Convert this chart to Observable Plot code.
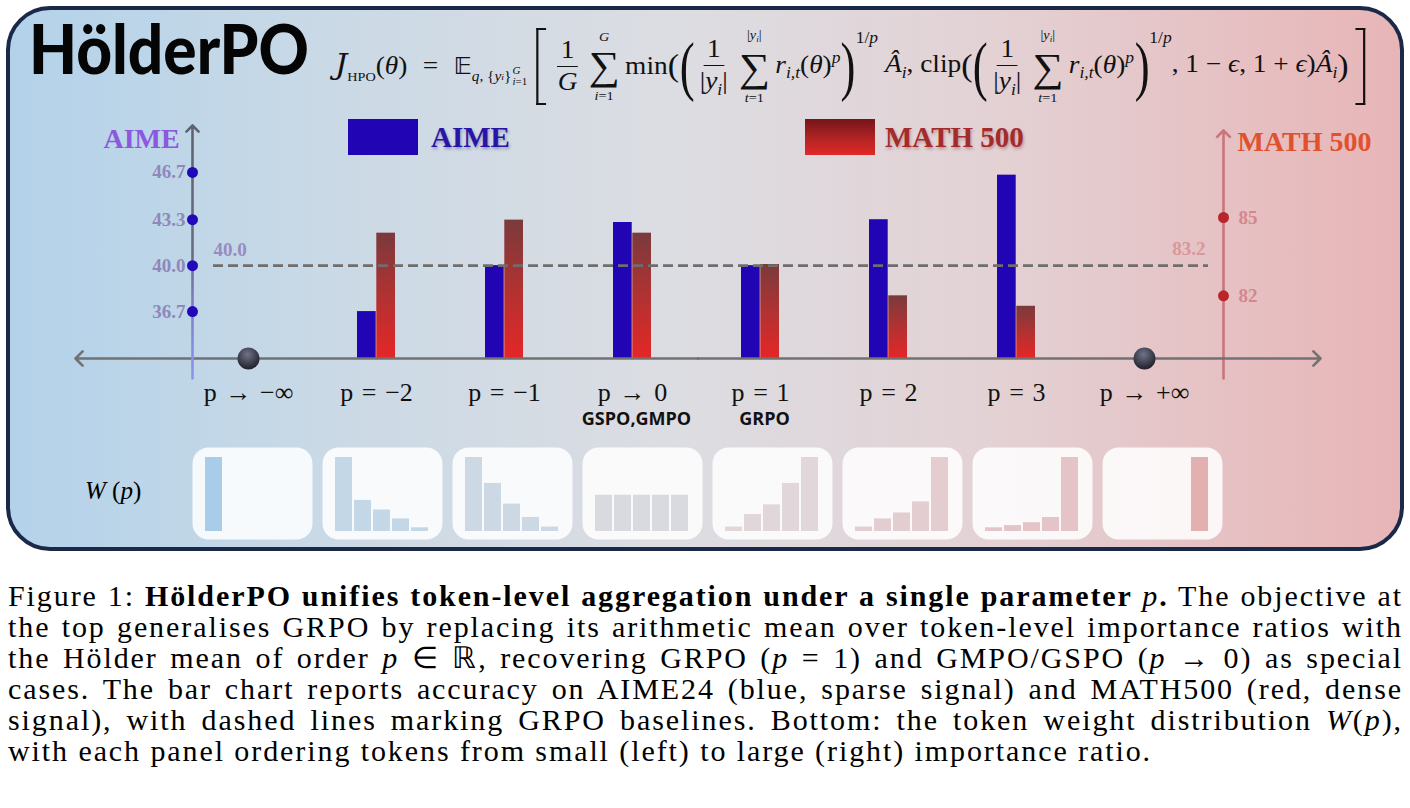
<!DOCTYPE html>
<html>
<head>
<meta charset="utf-8">
<script src="https://cdn.jsdelivr.net/npm/d3@7"></script>
<script src="https://cdn.jsdelivr.net/npm/@observablehq/plot@0.6"></script>
<style>
html, body { margin:0; padding:0; background:#ffffff; }
body { position:relative; width:1410px; height:808px; overflow:hidden; font-family:"Liberation Serif","Times New Roman",serif; color:#000; }
#panel { position:absolute; left:6px; top:6px; width:1390px; height:537px; border:4px solid #1b2948; border-radius:44px;
  background: linear-gradient(90deg, #b3d2ea 0%, #c9d9e6 22%, #dcdde2 48%, #e3d2d5 70%, #e8b5b7 100%); }
#title { position:absolute; left:29px; top:14px; font-family:Lato,"Open Sans",sans-serif; font-weight:900; font-size:68px; color:#050505; line-height:1; white-space:nowrap; transform-origin:0 0; }
.legend-box { position:absolute; width:70px; height:36px; }
.legend-text { position:absolute; font-family:"Liberation Serif",serif; font-weight:bold; font-size:29px; line-height:1; white-space:nowrap; }
.layer { position:absolute; left:0; top:0; pointer-events:none; }
#wlabel { position:absolute; left:85px; top:478px; font-size:25px; line-height:1; white-space:nowrap; }
#caption { position:absolute; left:8px; top:580px; width:1395px; font-size:30px; line-height:31px; }
#caption div { text-align:justify; text-align-last:justify; white-space:nowrap; }
#caption div.last { text-align:left; text-align-last:left; }
#measure { position:absolute; left:0; top:900px; white-space:nowrap; font-size:30px; visibility:hidden; }

#formula { position:absolute; left:335px; top:26px; height:80px; display:flex; align-items:center; font-family:"Liberation Serif",serif; font-size:25px; color:#111; white-space:nowrap; transform-origin:0 50%; }
#formula > span { display:inline-flex; align-items:center; }
#formula > span.t { display:inline-block; }
.J { font-style:italic; font-size:28px; font-family:"DejaVu Serif",serif; }
.sub { font-size:0.64em; vertical-align:-0.35em; }
.sup { font-size:0.64em; vertical-align:0.6em; }
.subHPO { font-size:13px; vertical-align:-0.5em; }
.eq { margin:0 14px; }
.bbE { font-family:"DejaVu Sans",sans-serif; font-size:23px; }
.esub { font-size:14px; align-self:flex-end; margin-bottom:19px; display:inline-flex !important; align-items:center; }
.stk { display:inline-flex; flex-direction:column; font-size:10px; line-height:1.05; margin-left:1px; }
.brL, .brR { width:9px; height:77px; box-sizing:border-box; border:2px solid #111; }
.brL { border-right:none; margin:0 6px 0 8px; }
.brR { border-left:none; margin-left:6px; }
.frac { flex-direction:column; line-height:1.2; margin:0 2px; }
.frac > span { padding:0 3px; text-align:center; }
.frac > span:first-child { border-bottom:1.4px solid #111; padding-bottom:1px; }
.sum { flex-direction:column; margin:0 5px; line-height:1; }
.sum .lim { font-size:13px; line-height:1; }
.sum .lim:first-child { margin-bottom:3px; }
.sum .lim:last-child { margin-top:3px; }
.sum .sig { font-size:40px; line-height:1; }
.pm { font-size:31px; }
.pb { font-size:66px; line-height:1; display:inline-block !important; transform:scaleX(0.62); margin:0 -4px; }
.exp { align-self:flex-start; margin-top:3px; font-size:16px; }

g[aria-label="aime-title"] text { filter: drop-shadow(1px 2px 2px rgba(90,40,170,0.45)); }
g[aria-label="math-title"] text { filter: drop-shadow(1px 2px 2px rgba(170,40,20,0.40)); }
</style>
</head>
<body>
<div id="panel"></div>
<div id="title">HölderPO</div>

<div id="formula">
  <span class="t"><span class="J">J</span><span class="subHPO">HPO</span>(<i>θ</i>)</span>
  <span class="t eq">=</span>
  <span class="t"><span class="bbE">𝔼</span></span>
  <span class="esub"><i>q</i>,&nbsp;{<i>y</i><span class="sub"><i>i</i></span>}<span class="stk"><span><i>G</i></span><span><i>i</i>=1</span></span></span>
  <span class="brL"></span>
  <span class="frac"><span>1</span><span><i>G</i></span></span>
  <span class="sum"><span class="lim"><i>G</i></span><span class="sig">∑</span><span class="lim"><i>i</i>=1</span></span>
  <span class="t">min</span><span class="pm">(</span><span class="pb">(</span>
  <span class="frac"><span>1</span><span>|<i>y</i><span class="sub"><i>i</i></span>|</span></span>
  <span class="sum"><span class="lim">|<i>y</i><span class="sub"><i>i</i></span>|</span><span class="sig">∑</span><span class="lim"><i>t</i>=1</span></span>
  <span class="t"><i>r</i><span class="sub"><i>i,t</i></span>(<i>θ</i>)<span class="sup"><i>p</i></span></span>
  <span class="pb">)</span><span class="exp">1/<i>p</i></span>
  <span class="t">&nbsp;<i>Â</i><span class="sub"><i>i</i></span>,&nbsp;clip</span><span class="pm">(</span><span class="pb">(</span>
  <span class="frac"><span>1</span><span>|<i>y</i><span class="sub"><i>i</i></span>|</span></span>
  <span class="sum"><span class="lim">|<i>y</i><span class="sub"><i>i</i></span>|</span><span class="sig">∑</span><span class="lim"><i>t</i>=1</span></span>
  <span class="t"><i>r</i><span class="sub"><i>i,t</i></span>(<i>θ</i>)<span class="sup"><i>p</i></span></span>
  <span class="pb">)</span><span class="exp">1/<i>p</i></span>
  <span class="t">,&nbsp;1&nbsp;−&nbsp;<i>ϵ</i>,&nbsp;1&nbsp;+&nbsp;<i>ϵ</i>)<i>Â</i><span class="sub"><i>i</i></span></span><span class="pm">)</span>
  <span class="brR"></span>
</div>

<div class="legend-box" style="left:348px;top:119px;background:#2104b3;"></div>
<div class="legend-text" style="left:431px;top:123px;color:#2815a6;text-shadow:1px 2px 3px rgba(30,10,110,0.35);">AIME</div>
<div class="legend-box" style="left:805px;top:119px;background:linear-gradient(180deg,#74151a 0%,#b22424 55%,#e42828 100%);"></div>
<div class="legend-text" style="left:885px;top:123px;color:#a32b2b;text-shadow:1px 2px 3px rgba(110,20,20,0.35);">MATH 500</div>

<div id="wlabel"><i>W</i>&nbsp;(<i>p</i>)</div>

<div id="caption">
  <div>Figure 1: <b>HölderPO unifies token-level aggregation under a single parameter </b><i>p</i><b>.</b> The objective at</div>
  <div>the top generalises GRPO by replacing its arithmetic mean over token-level importance ratios with</div>
  <div>the Hölder mean of order <i>p</i> ∈ ℝ, recovering GRPO (<i>p</i> = 1) and GMPO/GSPO (<i>p</i> → 0) as special</div>
  <div>cases. The bar chart reports accuracy on AIME24 (blue, sparse signal) and MATH500 (red, dense</div>
  <div>signal), with dashed lines marking GRPO baselines. Bottom: the token weight distribution <i>W</i>(<i>p</i>),</div>
  <div class="last" id="capLast">with each panel ordering tokens from small (left) to large (right) importance ratio.</div>
</div>
<span id="measure"></span>

<script>
// ---------------- data ----------------
const categories = ["p→−∞", "p=−2", "p=−1", "p→0", "p=1", "p=2", "p=3", "p→+∞"];
const categoryLabels = ["p → −∞", "p = −2", "p = −1", "p → 0", "p = 1", "p = 2", "p = 3", "p → +∞"];
const barCategories = ["p=−2", "p=−1", "p→0", "p=1", "p=2", "p=3"];
const aimeScores = [36.7, 40.0, 43.1, 40.0, 43.3, 46.5];
const math500Scores = [84.4, 84.9, 84.4, 83.2, 82.0, 81.6];
const aimeTicks = [36.7, 40.0, 43.3, 46.7];
const math500Ticks = [82, 85];
const aimeGRPO = 40.0;
const math500GRPO = 83.2;
const limitCategories = ["p→−∞", "p→+∞"];
const methodCategories = ["p→0", "p=1"];
const methodNames = ["GSPO,GMPO", "GRPO"];
const tokenSlots = [0, 1, 2, 3, 4];
const weightsNegInf = [1.0, 0, 0, 0, 0];
const weightsMinus2 = [1.0, 0.42, 0.29, 0.17, 0.05];
const weightsMinus1 = [1.0, 0.65, 0.37, 0.19, 0.06];
const weightsZero   = [0.49, 0.49, 0.49, 0.49, 0.49];
const weightsOne    = [0.06, 0.23, 0.36, 0.65, 1.0];
const weightsTwo    = [0.06, 0.17, 0.25, 0.40, 1.0];
const weightsThree  = [0.05, 0.08, 0.12, 0.19, 1.0];
const weightsPosInf = [0, 0, 0, 0, 1.0];

// ---------------- styles ----------------
const panelBarColors = ["#a9cde9", "#c3d7e7", "#ccd8e3", "#d9dadf", "#e1d6da", "#e3cdd1", "#e5c4c8", "#e3b0b2"];
const aimeAxis = [33.33, 46.67];
const mathAxis = [79.6, 85.0];

const svgNS = "http://www.w3.org/2000/svg";
const defsMarkup = `
<linearGradient id="mathBarGrad" x1="0" y1="0" x2="0" y2="1">
  <stop offset="0" stop-color="#7a3a3c"/><stop offset="0.55" stop-color="#b63131"/><stop offset="1" stop-color="#e52626"/>
</linearGradient>
<linearGradient id="aimeAxisGrad" gradientUnits="userSpaceOnUse" x1="0" y1="0" x2="0" y2="-253">
  <stop offset="0" stop-color="#9094f0"/><stop offset="0.28" stop-color="#7c80c8"/><stop offset="0.5" stop-color="#686c82"/><stop offset="1" stop-color="#5f6370"/>
</linearGradient>
<radialGradient id="ballGrad" cx="0.45" cy="0.32" r="0.68">
  <stop offset="0" stop-color="#70738a"/><stop offset="1" stop-color="#1e1f28"/>
</radialGradient>`;
function addDefs(svg) {
  const defs = document.createElementNS(svgNS, "defs");
  defs.innerHTML = defsMarkup;
  svg.insertBefore(defs, svg.firstChild);
}

const aimeRows = barCategories.map((c, i) => ({cat: c, v: aimeScores[i]}));
const mathRows = barCategories.map((c, i) => ({cat: c, v: math500Scores[i]}));

const serif = "Liberation Serif";
function basePlot(extra) {
  return Plot.plot(Object.assign({
    width: 1410, height: 560,
    marginLeft: 75, marginRight: 90, marginTop: 128, marginBottom: 182,
    style: {background: "transparent", overflow: "visible"},
    x: {type: "band", domain: categories, range: [182, 1210.5], paddingInner: 0.7, paddingOuter: 0.35, axis: null}
  }, extra));
}

// MATH 500 layer (bottom)
const mathPlot = basePlot({
  y: {domain: mathAxis, range: [358, 217], axis: null},
  marks: [
    Plot.barY(mathRows, {x: "cat", y1: mathAxis[0], y2: "v", fill: "url(#mathBarGrad)", insetLeft: 19.3}),
    Plot.vector([0], {frameAnchor: "bottom-right", dx: -97, length: 248, anchor: "start", rotate: 0,
      stroke: "#c7767b", strokeWidth: 2.6, r: 0.45}),
    Plot.dot(math500Ticks, {y: d => d, frameAnchor: "right", dx: -97, r: 5.5, fill: "#b8262b"}),
    Plot.text(math500Ticks, {y: d => d, text: d => String(d), frameAnchor: "right", dx: -82, textAnchor: "start",
      fill: "#d4878a", fontSize: 19, fontWeight: "bold", fontFamily: serif}),
    Plot.text([math500GRPO], {y: d => d, text: d => d.toFixed(1), frameAnchor: "right", dx: -115, dy: -16,
      textAnchor: "end", fill: "#d9979a", fontSize: 19, fontWeight: "bold", fontFamily: serif}),
    Plot.text(["MATH 500"], {text: d => d, frameAnchor: "top-right", dx: -83, dy: 3, textAnchor: "start",
      fill: "#e0522e", fontSize: 28, fontWeight: "bold", fontFamily: serif, ariaLabel: "math-title"})
  ]
});

// AIME + base layer (top)
const aimePlot = basePlot({
  y: {domain: aimeAxis, range: [358, 172.3], axis: null},
  marks: [
    Plot.barY(aimeRows, {x: "cat", y1: aimeAxis[0], y2: "v", fill: "#2104b3", insetRight: 19.3}),
    Plot.vector([90, -90], {y: aimeAxis[0], frameAnchor: "middle", rotate: d => d, length: 622.5, anchor: "start",
      stroke: "#727272", strokeWidth: 2.6, r: 0.2}),
    Plot.vector([0], {frameAnchor: "bottom-left", dx: 117, length: 253, anchor: "start", rotate: 0,
      stroke: "url(#aimeAxisGrad)", strokeWidth: 2.6, r: 0.42, ariaLabel: "aime-axis"}),
    Plot.dot(aimeTicks, {y: d => d, frameAnchor: "left", dx: 117, r: 5.5, fill: "#2108b8"}),
    Plot.text(aimeTicks, {y: d => d, text: d => d.toFixed(1), frameAnchor: "left", dx: 110, textAnchor: "end",
      fill: "#8f88b8", fontSize: 19, fontWeight: "bold", fontFamily: serif}),
    Plot.text([aimeGRPO], {y: d => d, text: d => d.toFixed(1), frameAnchor: "left", dx: 138, dy: -16,
      textAnchor: "start", fill: "#958dc0", fontSize: 19, fontWeight: "bold", fontFamily: serif}),
    Plot.dot(limitCategories, {x: d => d, y: aimeAxis[0], r: 11, fill: "url(#ballGrad)"}),
    Plot.text(categories, {x: d => d, text: (d, i) => categoryLabels[i].replace(/ /g, "\u2004"), frameAnchor: "bottom",
      dy: 22, fontSize: 26, fontFamily: serif, fill: "#111", ariaLabel: "category label"}),
    Plot.text(methodCategories, {x: d => d, text: (d, i) => methodNames[i], frameAnchor: "bottom", dy: 46, dx: 4,
      fontSize: 18, fontWeight: "bold", fontFamily: "Open Sans", fill: "#111"}),
    Plot.text(["AIME"], {text: d => d, frameAnchor: "top-left", dx: 28, dy: 0, textAnchor: "start",
      fill: "#8b58de", fontSize: 28, fontWeight: "bold", fontFamily: serif, ariaLabel: "aime-title"}),
    Plot.ruleY([aimeGRPO], {stroke: "#6e6e6e", strokeWidth: 2.6, strokeDasharray: "10,5", insetLeft: 138, insetRight: 112})
  ]
});

// W(p) panels (faceted)
const weightRows = [weightsNegInf, weightsMinus2, weightsMinus1, weightsZero, weightsOne, weightsTwo, weightsThree, weightsPosInf];
const wData = weightRows.flatMap((row, pi) => row.map((w, si) => ({panel: categories[pi], slot: tokenSlots[si], w})))
  .filter(d => d.w > 0);
const wPlot = Plot.plot({
  width: 1410, height: 92, marginLeft: 192, marginRight: 188, marginTop: 0, marginBottom: 0,
  style: {background: "transparent", overflow: "visible"},
  facet: {data: wData, x: "panel"},
  fx: {domain: categories, paddingInner: 10 / 130, paddingOuter: 0, axis: null, label: null},
  x: {type: "band", domain: tokenSlots, paddingInner: 0.1, paddingOuter: 0, insetLeft: 12, insetRight: 12, axis: null},
  y: {domain: [0, 1], insetTop: 10, insetBottom: 8, axis: null},
  color: {type: "identity"},
  marks: [
    Plot.frame({fill: "#ffffff", fillOpacity: 0.86, stroke: "none", rx: 16}),
    Plot.barY(wData, {x: "slot", y: "w", fill: d => panelBarColors[categories.indexOf(d.panel)]})
  ]
});

[mathPlot, aimePlot].forEach(svg => { addDefs(svg); svg.classList.add("layer"); document.body.appendChild(svg); });
wPlot.classList.add("layer");
wPlot.style.top = "447px";
document.body.appendChild(wPlot);

// align the AIME axis gradient (grey at top, blue at bottom) to the drawn path's own coordinates
const axisPath = aimePlot.querySelector('g[aria-label="aime-axis"] path');
if (axisPath) {
  const bb = axisPath.getBBox();
  const g = aimePlot.querySelector("#aimeAxisGrad");
  g.setAttribute("x1", bb.x); g.setAttribute("x2", bb.x);
  g.setAttribute("y1", bb.y + bb.height); g.setAttribute("y2", bb.y);
}

// italic "p" in category labels
aimePlot.querySelectorAll('g[aria-label="category label"] text').forEach(t => {
  const s = t.textContent;
  t.textContent = "";
  const a = document.createElementNS(svgNS, "tspan");
  a.setAttribute("font-style", "italic");
  a.textContent = s.slice(0, 1);
  const b = document.createElementNS(svgNS, "tspan");
  b.textContent = s.slice(1);
  t.append(a, b);
});

// fit text blocks to the reference extents
const title = document.getElementById("title");
title.style.transform = `scaleX(${280 / title.getBoundingClientRect().width})`;
const formula = document.getElementById("formula");
formula.style.transform = `scaleX(${1030 / formula.getBoundingClientRect().width})`;
const m = document.getElementById("measure");
const lastText = document.getElementById("capLast").textContent;
m.textContent = lastText;
const ls = (1144 - m.getBoundingClientRect().width) / lastText.length;
document.getElementById("caption").style.letterSpacing = Math.max(0, ls) + "px";
</script>
</body>
</html>
